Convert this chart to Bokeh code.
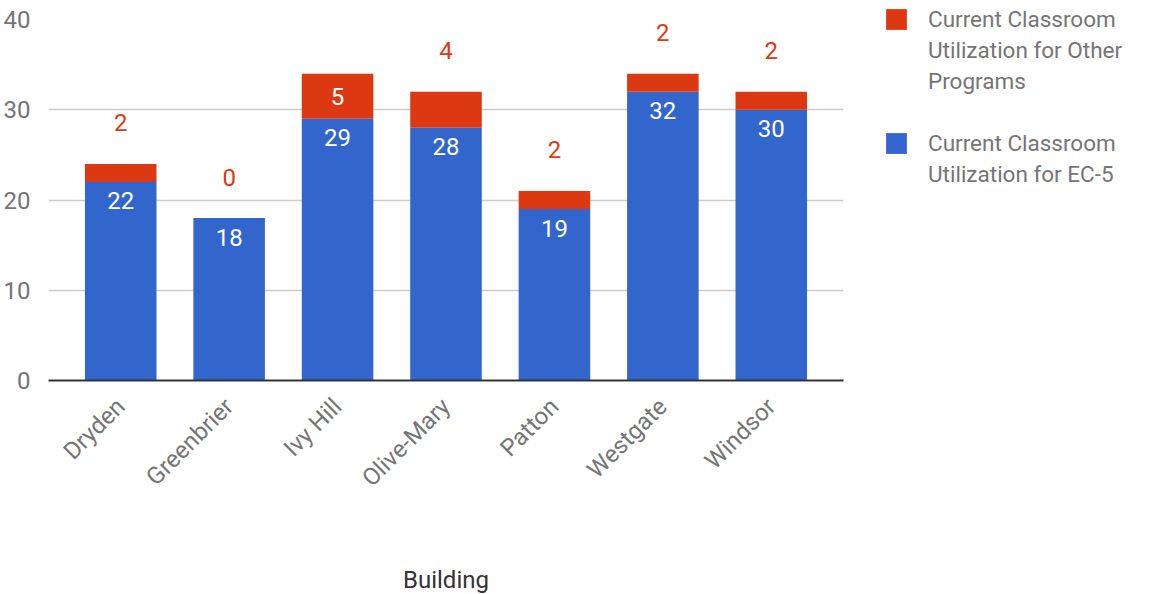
import math
from bokeh.plotting import figure
from bokeh.models import (ColumnDataSource, FactorRange, Range1d, Legend, LegendItem,
                          FixedTicker)
from bokeh.core.properties import value
from bokeh.embed import file_html
from bokeh.resources import INLINE

# ---- data ----
buildings = ["Dryden", "Greenbrier", "Ivy Hill", "Olive-Mary", "Patton", "Westgate", "Windsor"]
ec5 = [22, 18, 29, 28, 19, 32, 30]
other = [2, 0, 5, 4, 2, 2, 2]
other_name_lines = ["Current Classroom", "Utilization for Other", "Programs"]
ec5_name_lines = ["Current Classroom", "Utilization for EC-5"]
y_ticks = [0, 10, 20, 30, 40]
x_title = "Building"

BLUE = "#3366cc"
RED = "#dc3912"
GRAY = "#757575"
FONT = "Roboto"

total = [a + b for a, b in zip(ec5, other)]
inside = [o >= 5 for o in other]

src = ColumnDataSource(dict(
    b=buildings, ec5=ec5, other=other, total=total,
    ec5_lbl=[str(v) for v in ec5],
    oth_lbl=[str(v) for v in other],
    oth_y=[e + o / 2 if ins else t for e, o, t, ins in zip(ec5, other, total, inside)],
    oth_off=[0 if ins else -41 for ins in inside],
    oth_col=["white" if ins else RED for ins in inside],
))

p = figure(x_range=FactorRange(*buildings, range_padding=0.166, range_padding_units="absolute"),
           y_range=Range1d(0, 40),
           frame_width=795, frame_height=361,
           min_border_left=42, min_border_top=19, min_border_right=308, min_border_bottom=0,
           output_backend="svg", toolbar_location=None)

r_blue = p.vbar(x="b", top="ec5", bottom=0, width=0.66, source=src,
                fill_color=BLUE, line_color=None)
r_red = p.vbar(x="b", top="total", bottom="ec5", width=0.66, source=src,
               fill_color=RED, line_color=None)
# invisible renderer used only for legend continuation lines
r_none = p.vbar(x=[], top=[], width=0.66, fill_alpha=0, line_alpha=0)

p.text(x="b", y="ec5", text="ec5_lbl", source=src, y_offset=19,
       text_color="white", text_font=value(FONT), text_font_size="24px",
       text_align="center", text_baseline="middle")
p.text(x="b", y="oth_y", text="oth_lbl", source=src, y_offset="oth_off",
       text_color="oth_col", text_font=value(FONT), text_font_size="24px",
       text_align="center", text_baseline="middle")

p.outline_line_color = None
p.background_fill_color = "white"
p.border_fill_color = "white"

p.xgrid.grid_line_color = None
p.ygrid.grid_line_color = "#cccccc"
p.ygrid.grid_line_width = 1.5

p.yaxis.ticker = FixedTicker(ticks=y_ticks)
p.yaxis.axis_line_color = None
p.yaxis.major_tick_line_color = None
p.yaxis.minor_tick_line_color = None
p.yaxis.major_label_text_font = FONT
p.yaxis.major_label_text_font_size = "24px"
p.yaxis.major_label_text_color = GRAY
p.yaxis.major_label_standoff = 12

p.xaxis.axis_line_color = "#333333"
p.xaxis.axis_line_width = 2
p.xaxis.major_tick_line_color = None
p.xaxis.minor_tick_line_color = None
p.xaxis.major_label_orientation = math.pi / 4
p.xaxis.major_label_text_font = FONT
p.xaxis.major_label_text_font_size = "24px"
p.xaxis.major_label_text_color = GRAY
p.xaxis.major_label_standoff = 16
p.xaxis.axis_label = x_title
p.xaxis.axis_label_text_font = FONT
p.xaxis.axis_label_text_font_size = "24px"
p.xaxis.axis_label_text_font_style = "normal"
p.xaxis.axis_label_text_color = "#333333"
p.xaxis.axis_label_standoff = 61

# ---- legend: one line per item, glyph only on each series' first line ----
items = [LegendItem(label=other_name_lines[0], renderers=[r_red])]
items += [LegendItem(label=t, renderers=[r_none]) for t in other_name_lines[1:]]
items += [LegendItem(label=" ", renderers=[r_none])]
items += [LegendItem(label=ec5_name_lines[0], renderers=[r_blue])]
items += [LegendItem(label=t, renderers=[r_none]) for t in ec5_name_lines[1:]]

n_items = len(items)
item_h, gap = 26, 5
leg_h = n_items * item_h + (n_items - 1) * gap
legend = Legend(items=items, location=(40, 361 + 13 - leg_h), orientation="vertical",
                margin=0, padding=0, spacing=gap,
                glyph_width=26, glyph_height=item_h, label_height=item_h, label_standoff=19,
                label_text_font=FONT, label_text_font_size="22.5px",
                label_text_color=GRAY, label_text_baseline="middle",
                border_line_color=None, background_fill_alpha=0)
p.add_layout(legend, "right")

open("out.html", "w").write(file_html(p, INLINE))
